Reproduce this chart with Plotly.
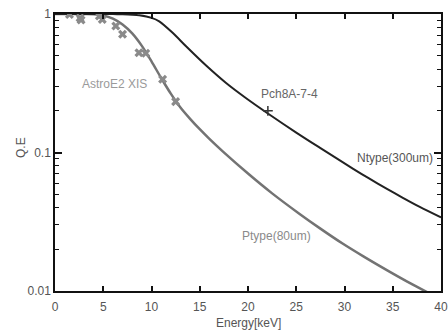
import plotly.graph_objects as go

# Ntype (300um) curve
ntype_e = [0, 4, 6, 7, 8, 8.73, 10, 10.8, 12.19, 13.58, 15.66, 17.73, 19.81, 22.06, 25, 27.43, 30.9, 32.5, 34.4, 36, 37.8, 40]
ntype_q = [1.0, 1.0, 0.998, 0.995, 0.989, 0.979, 0.938, 0.886, 0.732, 0.585, 0.4246, 0.3177, 0.2466, 0.1914, 0.1393, 0.1084, 0.0762, 0.0652, 0.0546, 0.0473, 0.0405, 0.034]

# Ptype (80um) curve
ptype_e = [0, 3, 4, 5, 6, 7, 8, 9, 10, 11, 12, 13, 14, 15, 16, 17.38, 20, 22.5, 25.35, 27.5, 29.8, 32, 34.7, 36.5, 38.5, 40]
ptype_q = [1.0, 1.0, 0.9977, 0.9772, 0.9247, 0.8395, 0.7244, 0.5888, 0.455, 0.3451, 0.2661, 0.2113, 0.175, 0.1472, 0.1253, 0.1019, 0.0705, 0.0507, 0.036, 0.0282, 0.022, 0.0177, 0.01374, 0.01169, 0.00986, 0.00871]

# AstroE2 XIS measurements
xis_e = [1.5, 2.6, 2.7, 4.6, 4.9, 6.3, 7.0, 8.7, 9.4, 11.15, 12.5]
xis_q = [0.99, 0.936, 0.905, 0.967, 0.913, 0.819, 0.714, 0.525, 0.52, 0.338, 0.233]

# Pch8A-7-4 measurement
pch_e = [22.06]
pch_q = [0.2]

x_ticks = [0, 5, 10, 15, 20, 25, 30, 35, 40]
y_ticks = [0.01, 0.1, 1]
y_ticktext = ["0.01", "0.1", "1"]
y_minor = [m * d for d in (0.01, 0.1) for m in range(2, 10)]

fig = go.Figure()
fig.add_trace(go.Scatter(x=ptype_e, y=ptype_q, mode="lines", line=dict(color="#737373", width=2.5, shape="spline", smoothing=0.8),
                         showlegend=False, hoverinfo="skip"))
fig.add_trace(go.Scatter(x=ntype_e, y=ntype_q, mode="lines", line=dict(color="#222222", width=2, shape="spline", smoothing=0.8),
                         showlegend=False, hoverinfo="skip"))
fig.add_trace(go.Scatter(x=xis_e, y=xis_q, mode="markers",
                         marker=dict(symbol="x", size=8, color="#8a8a8a", line=dict(width=0)),
                         showlegend=False))
fig.add_trace(go.Scatter(x=pch_e, y=pch_q, mode="markers",
                         marker=dict(symbol="cross-thin", size=7, color="#333333", line=dict(width=1.5, color="#333333")),
                         showlegend=False))

font_fam = "Liberation Sans, Arial, sans-serif"
ann = [
    dict(x=6.13, y=-0.505, text="AstroE2 XIS", color="#9a9a9a"),
    dict(x=24.3, y=-0.578, text="Pch8A-7-4", color="#666666"),
    dict(x=35.27, y=-1.04, text="Ntype(300um)", color="#555555"),
    dict(x=22.96, y=-1.603, text="Ptype(80um)", color="#8a8a8a"),
]
for a in ann:
    fig.add_annotation(x=a["x"], y=a["y"], text=a["text"], showarrow=False, xref="x", yref="y",
                       font=dict(family=font_fam, size=12, color=a["color"]))

# axis titles as annotations (pixel positions converted to paper fractions below)
fig.add_annotation(x=248, y=323, xref="paper", yref="paper", text="Energy[keV]", showarrow=False,
                   xanchor="center", yanchor="middle",
                   font=dict(family=font_fam, size=12, color="#555555"))
fig.add_annotation(x=21, y=148, xref="paper", yref="paper", text="Q.E", showarrow=False, textangle=-90,
                   xanchor="center", yanchor="middle",
                   font=dict(family=font_fam, size=12, color="#555555"))

axis_common = dict(showline=True, linecolor="#111111", linewidth=1.5, mirror="ticks", ticks="inside",
                   tickcolor="#111111", tickwidth=1.5, showgrid=False, zeroline=False, automargin=False,
                   tickfont=dict(family=font_fam, size=12, color="#555555"))

fig.update_xaxes(range=[0, 40], tickmode="array", tickvals=x_ticks, ticklen=5, ticklabelstandoff=4, **axis_common)
fig.update_yaxes(type="log", range=[-2, 0], tickmode="array", tickvals=y_ticks, ticktext=y_ticktext, ticklen=7,
                 minor=dict(tickmode="array", tickvals=y_minor, ticks="inside", ticklen=4, tickcolor="#111111", tickwidth=1.2),
                 **axis_common)

L, R, T, B = 55, 7, 14, 43
fig.update_layout(width=448, height=334, margin=dict(l=L, r=R, t=T, b=B),
                  plot_bgcolor="white", paper_bgcolor="white")

pw, ph = 448 - L - R, 334 - T - B
for a in fig.layout.annotations:
    if a.xref == "paper":
        a.x = (a.x - L) / pw
        a.y = 1 - (a.y - T) / ph

fig.write_html("out.html", config={"displayModeBar": False},
               post_script="document.body.style.margin='0';document.body.style.padding='0';")
